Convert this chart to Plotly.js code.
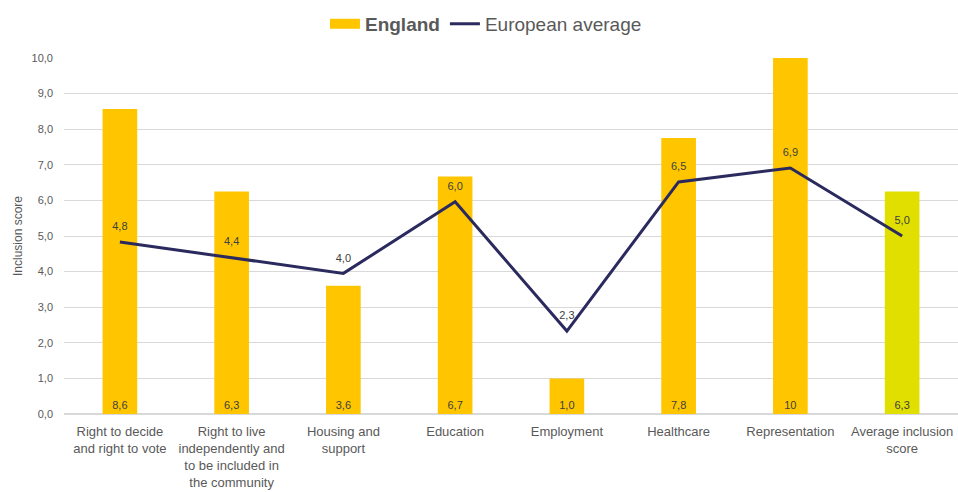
<!DOCTYPE html>
<html>
<head>
<meta charset="utf-8">
<script src="https://cdn.plot.ly/plotly-3.0.1.min.js"></script>
<style>html,body{margin:0;padding:0;background:#fff;}#chart{width:958px;height:492px;}</style>
</head>
<body>
<div id="chart"></div>
<script>
const categories = [
  "Right to decide<br>and right to vote",
  "Right to live<br>independently and<br>to be included in<br>the community",
  "Housing and<br>support",
  "Education",
  "Employment",
  "Healthcare",
  "Representation",
  "Average inclusion<br>score"
];
const englandValues = [8.57, 6.25, 3.6, 6.67, 1.0, 7.75, 10, 6.25];
const englandLabels = ["8,6", "6,3", "3,6", "6,7", "1,0", "7,8", "10", "6,3"];
const europeanValues = [4.83, 4.4, 3.95, 5.96, 2.33, 6.52, 6.91, 5.0];
const europeanLabels = ["4,8", "4,4", "4,0", "6,0", "2,3", "6,5", "6,9", "5,0"];
const barColors = ["#FFC600", "#FFC600", "#FFC600", "#FFC600", "#FFC600", "#FFC600", "#FFC600", "#E0DF00"];

const FONT = "Liberation Sans, Arial, sans-serif";

const traces = [
  {
    type: "bar",
    name: "England",
    showlegend: false,
    x: categories,
    y: englandValues,
    text: englandLabels,
    textposition: "inside",
    insidetextanchor: "start",
    textangle: 0,
    textfont: {family: FONT, size: 11, color: "#404040"},
    marker: {color: barColors},
    hoverinfo: "skip"
  },
  {
    type: "scatter",
    mode: "lines",
    name: "<b>England</b>",
    x: [null],
    y: [null],
    line: {color: "#FFC600", width: 11},
    hoverinfo: "skip"
  },
  {
    type: "scatter",
    mode: "lines+markers+text",
    name: "European average",
    x: categories,
    y: europeanValues,
    text: europeanLabels,
    textposition: "top center",
    textfont: {family: FONT, size: 11, color: "#404040"},
    line: {color: "#2B2A5E", width: 3},
    marker: {size: 13, color: "rgba(0,0,0,0)"},
    hoverinfo: "skip"
  }
];

const layout = {
  width: 958,
  height: 492,
  margin: {l: 64, r: 0, t: 58, b: 78},
  paper_bgcolor: "#ffffff",
  plot_bgcolor: "#ffffff",
  separators: ",.",
  bargap: 0.69,
  font: {family: FONT, color: "#595959"},
  showlegend: true,
  legend: {
    orientation: "h",
    x: 0.472,
    xanchor: "center",
    yref: "container",
    y: 0.99,
    yanchor: "top",
    font: {family: FONT, size: 19, color: "#595959"},
    itemwidth: 30,
    tracegroupgap: 0
  },
  xaxis: {
    type: "category",
    tickfont: {family: FONT, size: 13, color: "#595959"},
    showgrid: false,
    showline: false,
    ticks: "",
    ticklabelstandoff: 8,
    automargin: false
  },
  yaxis: {
    range: [0, 10],
    dtick: 1,
    tickformat: ".1f",
    tickfont: {family: FONT, size: 11, color: "#595959"},
    gridcolor: "#D9D9D9",
    gridwidth: 1,
    zeroline: true,
    zerolinecolor: "#D9D9D9",
    zerolinewidth: 2,
    ticklabelstandoff: 10,
    title: {text: "Inclusion score", font: {family: FONT, size: 12, color: "#595959"}, standoff: 6},
    automargin: false
  }
};

Plotly.newPlot("chart", traces, layout, {displayModeBar: false, staticPlot: true});
</script>
</body>
</html>
